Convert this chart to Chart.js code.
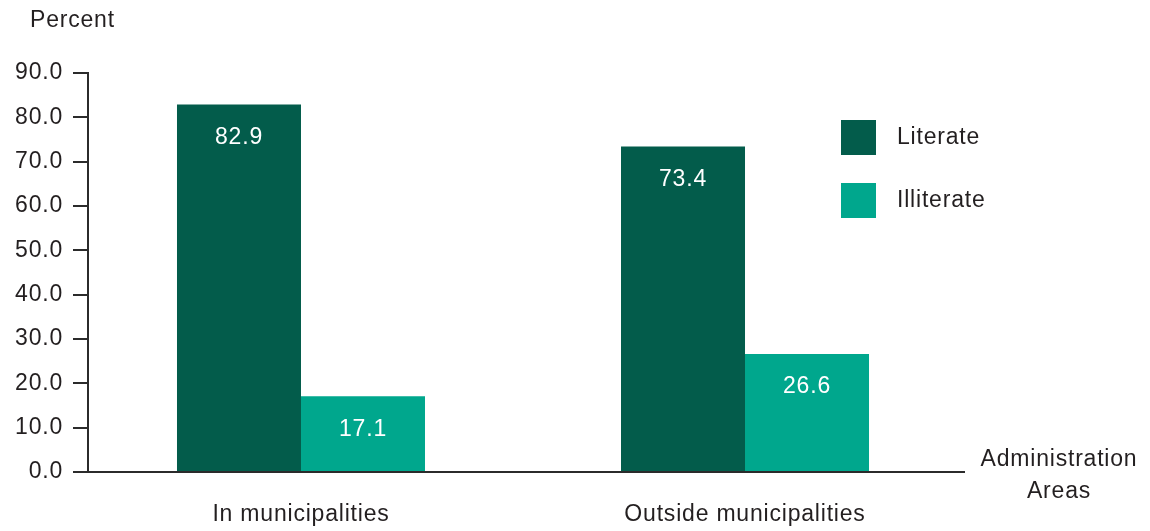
<!DOCTYPE html>
<html>
<head>
<meta charset="utf-8">
<script src="https://cdn.jsdelivr.net/npm/chart.js@4"></script>
<style>
html,body{margin:0;padding:0;background:#fff;}
#wrap{width:1150px;height:531px;position:relative;}
</style>
</head>
<body>
<div id="wrap"><canvas id="c" width="1150" height="531"></canvas></div>
<script>
const categories = ['In municipalities', 'Outside municipalities'];
const literate = [82.9, 73.4];
const illiterate = [17.1, 26.6];
const seriesNames = ['Literate', 'Illiterate'];
const yTicks = [0, 10, 20, 30, 40, 50, 60, 70, 80, 90];

const FONT = "'Liberation Sans', Arial, sans-serif";
const W = 400;
const FS = 23;
const LS = '0.8px';
const TXT = '#231f20';
const DARK = '#035c4b';
const LIGHT = '#00a78d';

const toPts = arr => arr.map((v, i) => ({x: i, y: v}));

const spacingPlugin = {
  id: 'spacing',
  beforeInit(chart) { chart.ctx.letterSpacing = LS; },
  beforeUpdate(chart) { chart.ctx.letterSpacing = LS; },
  beforeLayout(chart) { chart.ctx.letterSpacing = LS; },
  beforeDraw(chart) { chart.ctx.letterSpacing = LS; }
};

const labelPlugin = {
  id: 'barLabels',
  afterDatasetsDraw(chart) {
    const ctx = chart.ctx;
    ctx.save();
    ctx.letterSpacing = LS;
    ctx.fillStyle = '#ffffff';
    ctx.font = W + ' ' + FS + 'px ' + FONT;
    ctx.textAlign = 'center';
    ctx.textBaseline = 'middle';
    chart.data.datasets.forEach((ds, di) => {
      const meta = chart.getDatasetMeta(di);
      meta.data.forEach((bar, i) => {
        ctx.fillText(ds.data[i].y.toFixed(1), bar.x, bar.y + 33);
      });
    });
    ctx.restore();
  }
};

const legendPlugin = {
  id: 'customLegend',
  afterDraw(chart) {
    const ctx = chart.ctx;
    ctx.save();
    ctx.letterSpacing = LS;
    ctx.font = W + ' ' + FS + 'px ' + FONT;
    ctx.textBaseline = 'middle';
    ctx.textAlign = 'left';
    chart.data.datasets.forEach((ds, i) => {
      const y = 120 + i * 63;
      ctx.fillStyle = ds.backgroundColor;
      ctx.fillRect(841, y, 35, 35);
      ctx.fillStyle = TXT;
      ctx.fillText(ds.label, 897, y + 18);
    });
    ctx.restore();
  }
};

const textPlugin = {
  id: 'extraText',
  afterDraw(chart) {
    const ctx = chart.ctx;
    ctx.save();
    ctx.letterSpacing = LS;
    ctx.font = W + ' ' + FS + 'px ' + FONT;
    ctx.fillStyle = TXT;
    ctx.textBaseline = 'middle';
    ctx.textAlign = 'left';
    ctx.fillText('Percent', 30, 21);
    ctx.textAlign = 'center';
    ctx.fillText('Administration', 1059, 460);
    ctx.fillText('Areas', 1059, 492);
    ctx.restore();
  }
};

new Chart(document.getElementById('c'), {
  type: 'bar',
  data: {
    datasets: [
      {label: seriesNames[0], data: toPts(literate), backgroundColor: DARK},
      {label: seriesNames[1], data: toPts(illiterate), backgroundColor: LIGHT}
    ]
  },
  options: {
    responsive: false,
    animation: false,
    devicePixelRatio: 1,
    layout: {padding: {top: 73, right: 186, left: 0, bottom: 0}},
    datasets: {bar: {barPercentage: 1, categoryPercentage: 248 / 444}},
    plugins: {legend: {display: false}, tooltip: {enabled: false}},
    scales: {
      x: {
        type: 'linear',
        offset: false,
        min: -0.4797,
        max: 1.4932,
        afterFit(s) { s.height = 59; },
        grid: {display: false, drawTicks: false, offset: false},
        border: {display: true, color: '#2b2b2b', width: 2},
        ticks: {
          stepSize: 1,
          includeBounds: false,
          autoSkip: false,
          maxRotation: 0,
          padding: 29,
          color: TXT,
          font: {family: FONT, size: FS, weight: W},
          callback: v => (Number.isInteger(v) && categories[v] !== undefined) ? categories[v] : ''
        }
      },
      y: {
        min: 0,
        max: 90,
        afterFit(s) { s.width = 88; },
        afterBuildTicks(s) { s.ticks = yTicks.map(v => ({value: v})); },
        grid: {drawOnChartArea: false, drawTicks: true, tickLength: 15, color: '#2b2b2b', lineWidth: 2},
        border: {display: true, color: '#2b2b2b', width: 2},
        ticks: {
          padding: 10,
          color: TXT,
          font: {family: FONT, size: FS, weight: W},
          callback: v => Number(v).toFixed(1)
        }
      }
    }
  },
  plugins: [spacingPlugin, labelPlugin, legendPlugin, textPlugin]
});
</script>
</body>
</html>
